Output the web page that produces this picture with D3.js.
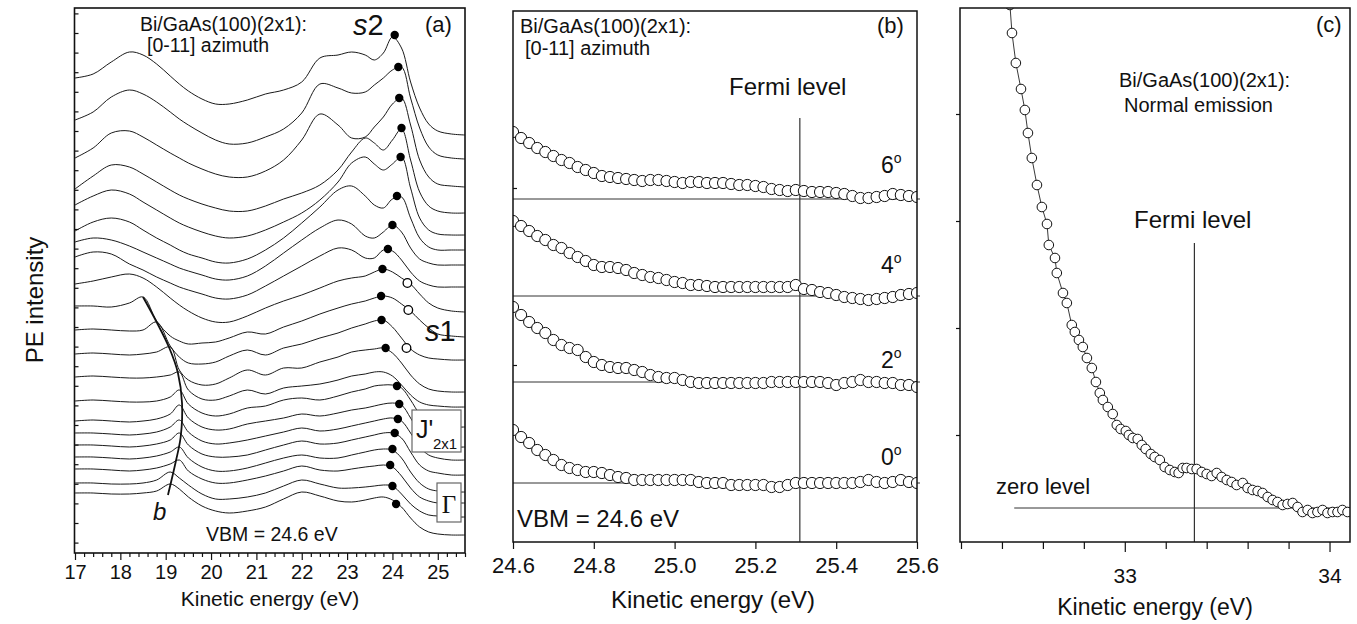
<!DOCTYPE html>
<html>
<head>
<meta charset="utf-8">
<script src="https://cdn.jsdelivr.net/npm/d3@7/dist/d3.min.js"></script>
<style>
  html,body{margin:0;padding:0;background:#fff;}
  svg text{font-family:"Liberation Sans",Arial,Helvetica,sans-serif;fill:#111;}
</style>
</head>
<body>
<svg id="fig" width="1357" height="624" viewBox="0 0 1357 624"></svg>
<script>
// ================= Panel (a): ARUPS spectra, [0-11] azimuth =================
const energyA = [17.0,17.4,17.8,18.2,18.5,18.8,19.1,19.3,19.5,19.8,20.1,20.4,20.8,21.2,21.6,22.0,22.4,22.8,23.1,23.4,23.6,23.8,24.0,24.2,24.4,24.6,24.8,25.0,25.3,25.6];
const spec01 = [475,479,491,501,498,489,477,469,462,454,449,449,453,459,463,471,495,498,501,498,493,500,516,505,471,445,429,422,419,418];
const spec02 = [433,441,456,463,459,451,441,434,428,420,413,409,410,416,424,440,469,465,460,461,468,475,483,486,455,425,406,398,395,394];
const spec03 = [395,405,420,422,416,408,400,395,390,384,379,376,376,382,393,413,439,428,415,416,426,436,449,455,428,393,376,369,367,366];
const spec04 = [364,377,388,386,379,371,363,358,354,349,345,342,342,347,354,360,368,383,401,415,410,403,413,424,393,361,347,342,340,340];
const spec05 = [348,357,363,359,351,343,335,330,326,321,317,315,317,323,331,340,353,371,390,396,389,383,389,396,365,335,323,319,318,318];
const spec06 = [322,331,335,331,323,315,308,303,299,295,291,290,294,303,315,330,346,363,367,357,348,345,354,356,335,315,306,303,303,303];
const spec07 = [311,315,313,307,301,295,289,285,282,278,274,273,277,287,300,313,325,333,329,317,315,321,328,321,305,294,290,288,288,288];
const spec08 = [296,301,299,289,283,276,270,266,263,259,255,254,258,267,277,287,297,305,303,295,295,303,302,293,281,272,268,266,266,266];
const spec09 = [269,272,276,279,275,266,255,248,242,235,231,231,237,245,252,258,265,272,275,277,281,284,281,275,269,259,250,245,242,241];
const spec10 = [247,247,246,250,256,232,217,212,209,210,211,215,221,219,226,232,239,245,249,252,255,257,255,249,242,233,225,219,217,216];
const spec11 = [223,224,223,222,223,231,207,196,190,189,191,197,203,198,205,209,215,220,225,229,232,233,226,215,204,198,195,194,193,193];
const spec12 = [199,200,199,198,199,201,206,183,173,168,169,175,183,178,185,185,191,196,201,203,204,205,200,190,178,169,164,162,161,161];
const spec13 = [176,177,176,175,175,176,178,181,163,154,153,157,163,159,165,167,169,173,177,179,181,181,177,168,158,151,148,147,146,146];
const spec14 = [152,153,152,151,151,152,156,163,149,140,137,139,145,147,153,155,153,157,161,164,167,168,168,165,153,139,131,128,126,126];
const spec15 = [132,133,132,131,132,134,139,148,135,126,123,124,129,132,135,139,137,140,143,145,147,149,150,148,135,120,111,108,106,106];
const spec16 = [120,120,119,118,119,121,126,133,121,112,109,110,113,117,121,125,122,124,127,130,132,134,135,132,120,106,98,95,93,93];
const spec17 = [108,108,107,106,107,109,113,120,108,99,96,96,98,103,108,112,109,110,113,116,118,120,120,115,101,88,82,80,78,78];
const spec18 = [96,96,95,94,95,97,101,106,95,86,82,82,85,90,95,98,95,95,98,101,103,104,103,95,81,70,64,62,61,61];
const spec19 = [84,84,83,82,83,85,89,93,82,74,70,70,73,77,82,87,83,82,84,86,87,88,86,77,65,56,52,50,50,50];
const spec20 = [70,70,69,69,70,73,81,75,68,59,54,54,56,60,67,73,69,65,65,66,67,68,67,59,49,42,38,37,36,36];
const spec21 = [60,60,59,59,60,62,69,64,56,47,42,40,42,46,54,61,57,52,51,53,55,56,53,46,35,26,21,19,18,18];
const spectraA = [spec01,spec02,spec03,spec04,spec05,spec06,spec07,spec08,spec09,spec10,spec11,spec12,spec13,spec14,spec15,spec16,spec17,spec18,spec19,spec20,spec21];

// filled markers (s2 / J'2x1 feature)
const dotE = [24.05,24.13,24.15,24.2,24.18,24.1,24.0,23.9,23.78,23.75,23.76,23.85,24.1,24.15,24.12,24.05,24.0,23.95,24.0,24.08];
const dotI = [518,486,455,425,396,357,328,304,284,257,233,205,167,149,134,120,104,88,67,49];
// open markers (s1)
const s1E = [24.33,24.35,24.31];
const s1I = [270,243,205];
// guide line "b"
const bLineE = [18.5,18.8,19.08,19.27,19.36,19.33,19.22,19.05];
const bLineI = [256,231,205,180,150,116,91,58];
const xTicksA = [17,18,19,20,21,22,23,24,25];

// ================= Panel (b): near Fermi level =================
const energyB = d3.range(51).map(i => +(24.6 + i * 0.02).toFixed(2));
const anglesB = ["6","4","2","0"];
const zeroB = [343,246,160,59];
const relB6 = [67,61,56,51,47,43,39,36,32,29,26,23,22,21,20,19,18,19,19,18,17,16,17,17,16,16,16,15,14,14,13,12,10,9,8,9,8,7,7,7,6,5,3,1,1,2,3,5,4,3,2];
const relB4 = [75,70,65,60,56,51,48,43,39,35,31,29,29,28,26,23,21,19,18,16,14,13,11,11,10,9,9,9,9,9,9,9,9,9,9,11,7,6,4,3,1,-1,-2,-3,-4,-3,-2,-1,1,2,3];
const relB2 = [75,67,60,54,49,42,37,34,32,25,20,17,15,14,14,12,10,7,5,4,4,2,0,-1,-1,-1,-1,-1,-1,-1,-1,-1,0,0,0,0,0,0,0,-1,-3,-1,0,2,0,0,-1,-1,-3,-3,-5];
const relB0 = [53,46,40,33,28,23,18,15,13,11,11,10,8,6,5,3,3,3,3,3,3,3,3,1,0,0,0,-2,-2,-2,-2,-2,-4,-4,-2,0,0,0,0,0,0,0,0,1,3,1,0,1,3,1,0];
const relB = [relB6, relB4, relB2, relB0];
const fermiB = 25.31;
const xTicksB = [24.6,24.8,25.0,25.2,25.4,25.6];

// ================= Panel (c): normal emission =================
const energyC = [32.439,32.449,32.468,32.493,32.512,32.527,32.546,32.571,32.595,32.620,32.629,32.659,32.668,32.698,32.717,32.741,32.756,32.776,32.795,32.815,32.839,32.859,32.878,32.893,32.917,32.941,32.961,32.980,33.005,33.020,33.039,33.063,33.083,33.102,33.127,33.146,33.171,33.195,33.220,33.244,33.263,33.283,33.302,33.327,33.351,33.376,33.400,33.424,33.449,33.473,33.498,33.522,33.546,33.576,33.600,33.624,33.649,33.673,33.698,33.722,33.746,33.771,33.795,33.820,33.844,33.868,33.893,33.917,33.941,33.966,33.990,34.015,34.039,34.063,34.088];
const intensityC = [537,509,479,453,432,409,384,357,335,318,297,284,269,249,239,217,210,202,195,184,174,160,149,142,135,128,117,113,111,107,104,103,97,93,88,85,82,75,72,70,69,74,74,73,73,70,68,66,69,65,62,60,57,59,54,52,51,49,45,42,40,37,38,39,35,30,32,29,30,32,29,30,30,32,30];
const fermiC = 33.34;
const zeroC = 34;
const zeroStartC = 32.46;
const xTicksC = [33,34];

// ================= drawing =================
const svg = d3.select("#fig");
const defs = svg.append("defs");
function clipRect(id, x, y, w, h) {
  defs.append("clipPath").attr("id", id).append("rect")
    .attr("x", x).attr("y", y).attr("width", w).attr("height", h);
}
function txt(g, x, y, s, size, anchor) {
  return g.append("text").attr("x", x).attr("y", y).attr("font-size", size)
    .attr("text-anchor", anchor || "start").text(s);
}
function styleAxis(ax, size) {
  ax.attr("font-family", null).attr("font-size", null);
  ax.select(".domain").remove();
  ax.selectAll(".tick line").attr("stroke", "#111").attr("stroke-width", 1.2);
  ax.selectAll(".tick text").attr("font-size", size).attr("fill", "#111");
}

// ---------- (a) ----------
const xA = d3.scaleLinear().domain([17, 25.6]).range([75, 465]);
const yA = d3.scaleLinear().domain([0, 545]).range([553, 8]);
clipRect("clipA", 74.5, 8, 390.5, 545);
const gA = svg.append("g");
const lineA = d3.line().x(d => xA(d[0])).y(d => yA(d[1])).curve(d3.curveCatmullRom.alpha(0.5));
const curvesA = gA.append("g").attr("clip-path", "url(#clipA)");
curvesA.selectAll("path.spec").data(spectraA).join("path").attr("class", "spec")
  .attr("d", s => lineA(energyA.map((e, i) => [e, s[i]])))
  .attr("fill", "none").attr("stroke", "#1a1a1a").attr("stroke-width", 1);
curvesA.append("path")
  .attr("d", d3.line().x(d => xA(d[0])).y(d => yA(d[1])).curve(d3.curveCatmullRom)(bLineE.map((e, i) => [e, bLineI[i]])))
  .attr("fill", "none").attr("stroke", "#111").attr("stroke-width", 1.8);
curvesA.selectAll("circle.dot").data(dotE).join("circle").attr("class", "dot")
  .attr("cx", (e) => xA(e)).attr("cy", (e, i) => yA(dotI[i])).attr("r", 4.2).attr("fill", "#000");
curvesA.selectAll("circle.s1").data(s1E).join("circle").attr("class", "s1")
  .attr("cx", e => xA(e)).attr("cy", (e, i) => yA(s1I[i])).attr("r", 4.3)
  .attr("fill", "#fff").attr("stroke", "#000").attr("stroke-width", 1.3);

// left ticks (inward)
const yTicksA = d3.range(10.4, 545, 19.6);
const axYA = gA.append("g").attr("transform", "translate(74.5,0)")
  .call(d3.axisLeft(yA).tickValues(yTicksA).tickSize(-4).tickFormat(""));
styleAxis(axYA, 10);
// bottom axis
const minorA = d3.range(17, 25.61, 0.2).filter(v => Math.abs(v - Math.round(v)) > 0.01);
const axMinA = gA.append("g").attr("transform", "translate(0,553)")
  .call(d3.axisBottom(xA).tickValues(minorA).tickSize(4).tickFormat(""));
styleAxis(axMinA, 10);
const axA = gA.append("g").attr("transform", "translate(0,553)")
  .call(d3.axisBottom(xA).tickValues(xTicksA).tickSize(7).tickPadding(5).tickFormat(d3.format("d")));
styleAxis(axA, 20);
gA.append("rect").attr("x", 74.5).attr("y", 8).attr("width", 390.5).attr("height", 545)
  .attr("fill", "none").attr("stroke", "#111").attr("stroke-width", 1.6);
txt(gA, 270, 606, "Kinetic energy (eV)", 21, "middle");
svg.append("text").attr("transform", "translate(43,300) rotate(-90)").attr("text-anchor", "middle")
  .attr("font-size", 24).text("PE intensity");

txt(gA, 140, 31, "Bi/GaAs(100)(2x1):", 19.5);
txt(gA, 147, 52, "[0-11] azimuth", 19.5);
const s2 = gA.append("text").attr("x", 353).attr("y", 35).attr("font-size", 29);
s2.append("tspan").attr("font-style", "italic").text("s");
s2.append("tspan").text("2");
txt(gA, 425, 32, "(a)", 22);
const s1t = gA.append("text").attr("x", 425).attr("y", 341).attr("font-size", 29);
s1t.append("tspan").attr("font-style", "italic").text("s");
s1t.append("tspan").text("1");
txt(gA, 206, 541, "VBM = 24.6 eV", 19.5);
gA.append("text").attr("x", 153).attr("y", 520).attr("font-size", 24).attr("font-style", "italic").text("b");
// J'2x1 box
gA.append("rect").attr("x", 412).attr("y", 410).attr("width", 49).attr("height", 42)
  .attr("fill", "#fff").attr("stroke", "#666").attr("stroke-width", 1.2);
txt(gA, 416, 438, "J'", 25);
txt(gA, 433, 449, "2x1", 15);
// Gamma box
gA.append("rect").attr("x", 437).attr("y", 483).attr("width", 24).attr("height", 39)
  .attr("fill", "#fff").attr("stroke", "#666").attr("stroke-width", 1.2);
gA.append("text").attr("x", 449).attr("y", 513).attr("font-size", 25).attr("text-anchor", "middle")
  .style("font-family", "'Liberation Serif','Times New Roman',serif").text("Γ");

// ---------- (b) ----------
const xB = d3.scaleLinear().domain([24.6, 25.6]).range([513, 917]);
const yB = d3.scaleLinear().domain([0, 531]).range([542, 11]);
clipRect("clipB", 513, 11, 404, 531);
const gB = svg.append("g");
const plotB = gB.append("g");
plotB.selectAll("line.zero").data(zeroB).join("line").attr("class", "zero")
  .attr("x1", xB(24.6)).attr("x2", xB(25.6) + 3).attr("y1", d => yB(d)).attr("y2", d => yB(d))
  .attr("stroke", "#333").attr("stroke-width", 1);
plotB.append("line").attr("x1", xB(fermiB)).attr("x2", xB(fermiB)).attr("y1", yB(0)).attr("y2", yB(424))
  .attr("stroke", "#333").attr("stroke-width", 1.2);
const circB = plotB.append("g").attr("clip-path", "url(#clipB)");
relB.forEach((rel, k) => {
  circB.append("g").selectAll("circle").data(rel).join("circle")
    .attr("cx", (v, i) => xB(energyB[i])).attr("cy", v => yB(zeroB[k] + v)).attr("r", 5.6)
    .attr("fill", "#fff").attr("stroke", "#111").attr("stroke-width", 1);
});
const axB = gB.append("g").attr("transform", "translate(0,542)")
  .call(d3.axisBottom(xB).tickValues(xTicksB).tickSize(7).tickPadding(8).tickFormat(d3.format(".1f")));
styleAxis(axB, 22);
const axYB = gB.append("g").attr("transform", "translate(513,0)")
  .call(d3.axisLeft(yB).tickValues([177, 354]).tickSize(-4).tickFormat(""));
styleAxis(axYB, 10);
gB.append("rect").attr("x", 513).attr("y", 11).attr("width", 404).attr("height", 531)
  .attr("fill", "none").attr("stroke", "#111").attr("stroke-width", 1.5);
txt(gB, 713, 608, "Kinetic energy (eV)", 24, "middle");
txt(gB, 520, 33, "Bi/GaAs(100)(2x1):", 20);
txt(gB, 525, 55, "[0-11] azimuth", 20);
txt(gB, 877, 33, "(b)", 22);
txt(gB, 729, 95, "Fermi level", 24);
const angleY = [173, 273, 368, 465];
anglesB.forEach((a, k) => {
  const t = gB.append("text").attr("x", 881).attr("y", angleY[k]).attr("font-size", 23);
  t.append("tspan").text(a);
  t.append("tspan").attr("dy", -10).attr("font-size", 14).text("o");
});
txt(gB, 517, 527, "VBM = 24.6 eV", 24);

// ---------- (c) ----------
const xC = d3.scaleLinear().domain([32.2, 34.1]).range([961, 1350]);
const yC = d3.scaleLinear().domain([0, 534]).range([542, 8]);
clipRect("clipC", 960, 8, 390, 534);
const gC = svg.append("g");
gC.append("line").attr("x1", xC(zeroStartC)).attr("x2", xC(34.1)).attr("y1", yC(zeroC)).attr("y2", yC(zeroC))
  .attr("stroke", "#333").attr("stroke-width", 1);
gC.append("line").attr("x1", xC(fermiC)).attr("x2", xC(fermiC)).attr("y1", yC(0)).attr("y2", yC(299))
  .attr("stroke", "#333").attr("stroke-width", 1.2);
const plotC = gC.append("g").attr("clip-path", "url(#clipC)");
plotC.append("path")
  .attr("d", d3.line().x(d => xC(d[0])).y(d => yC(d[1]))(energyC.map((e, i) => [e, intensityC[i]])))
  .attr("fill", "none").attr("stroke", "#222").attr("stroke-width", 0.9);
plotC.selectAll("circle").data(intensityC).join("circle")
  .attr("cx", (v, i) => xC(energyC[i])).attr("cy", v => yC(v)).attr("r", 4.8)
  .attr("fill", "#fff").attr("stroke", "#111").attr("stroke-width", 1);
const minorC = d3.range(32.2, 34.01, 0.2).filter(v => Math.abs(v - Math.round(v)) > 0.01);
const axMinC = gC.append("g").attr("transform", "translate(0,542)")
  .call(d3.axisBottom(xC).tickValues(minorC).tickSize(7).tickFormat(""));
styleAxis(axMinC, 10);
const axC = gC.append("g").attr("transform", "translate(0,542)")
  .call(d3.axisBottom(xC).tickValues(xTicksC).tickSize(10).tickPadding(16).tickFormat(d3.format("d")));
styleAxis(axC, 21);
const axYC = gC.append("g").attr("transform", "translate(960,0)")
  .call(d3.axisLeft(yC).tickValues([107, 214, 321, 428]).tickSize(4).tickFormat(""));
styleAxis(axYC, 10);
gC.append("rect").attr("x", 960).attr("y", 8).attr("width", 390).attr("height", 534)
  .attr("fill", "none").attr("stroke", "#111").attr("stroke-width", 1.5);
txt(gC, 1155, 615, "Kinetic energy (eV)", 23, "middle");
txt(gC, 1316, 32, "(c)", 22);
txt(gC, 1119, 87, "Bi/GaAs(100)(2x1):", 20);
txt(gC, 1124, 112, "Normal emission", 20);
txt(gC, 1134, 228, "Fermi level", 24);
txt(gC, 996, 494, "zero level", 22);
</script>
</body>
</html>
